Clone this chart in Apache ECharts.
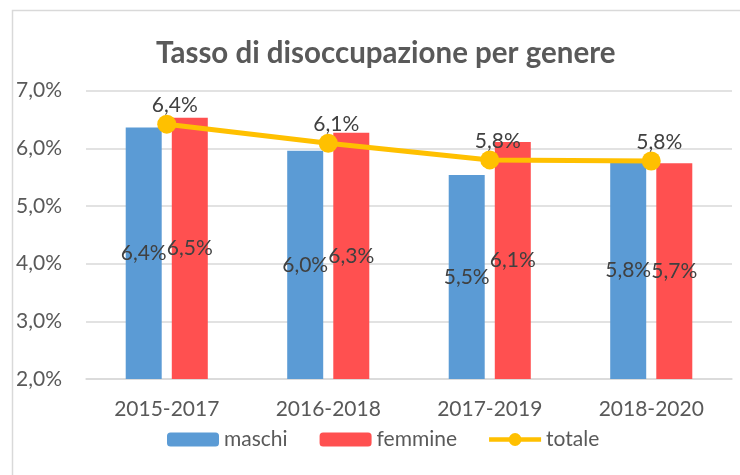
<!DOCTYPE html>
<html>
<head>
<meta charset="utf-8">
<script src="https://cdn.jsdelivr.net/npm/echarts@6/dist/echarts.min.js"></script>
<style>
  html, body { margin: 0; padding: 0; background: #fff; }
  #chart { width: 740px; height: 475px; }
</style>
</head>
<body>
<div id="chart"></div>
<script>
// dati
const periodi = ['2015-2017', '2016-2018', '2017-2019', '2018-2020']
const maschi = [6.36, 5.96, 5.54, 5.76]
const femmine = [6.53, 6.27, 6.11, 5.74]
const totale = [6.42, 6.09, 5.80, 5.78]
const yTicks = [2, 3, 4, 5, 6, 7]

const fmt = v => v.toFixed(1).replace('.', ',') + '%'
const fontFam = 'Lato, "Open Sans", sans-serif'
const fs = 21

// icona legenda: linea spessa con pallino al centro (stesso verso, niente buco)
const lineIcon = 'path://M0,4.5H57V9.5H0Z M21.5,7a7,7 0 1,1 14,0a7,7 0 1,1 -14,0Z'

const chartInstance = echarts.init(document.getElementById('chart'))

const barLabel = {
    show: true,
    position: 'inside',
    color: '#404040',
    fontSize: fs,
    fontFamily: fontFam,
    formatter: p => fmt(p.value)
}

const option = {
    animation: false,
    textStyle: { fontFamily: fontFam },
    graphic: [{
        type: 'rect',
        shape: { x: 12.5, y: 10.5, width: 800, height: 500 },
        style: { fill: 'none', stroke: '#d9d9d9', lineWidth: 1.5 },
        silent: true
    }],
    title: {
        text: 'Tasso di disoccupazione per genere',
        left: 151,
        top: 33,
        textStyle: {
            color: '#595959',
            fontSize: 29.5,
            fontWeight: 'bold',
            fontFamily: fontFam
        }
    },
    grid: {
        left: 86,
        right: 8,
        top: 90.7,
        bottom: 96
    },
    legend: {
        bottom: 20,
        left: 162,
        itemWidth: 52,
        itemHeight: 14,
        itemGap: 32,
        textStyle: { color: '#595959', fontSize: fs, fontFamily: fontFam },
        data: [
            'maschi',
            'femmine',
            { name: 'totale', icon: lineIcon, itemStyle: { color: '#FFC000' } }
        ]
    },
    xAxis: {
        type: 'category',
        data: periodi,
        axisTick: { show: false },
        axisLine: { lineStyle: { color: '#d9d9d9', width: 1.5 } },
        axisLabel: { color: '#595959', fontSize: fs, margin: 20, fontFamily: fontFam }
    },
    yAxis: {
        type: 'value',
        min: yTicks[0],
        max: yTicks[yTicks.length - 1],
        interval: 1,
        axisLine: { show: false },
        axisTick: { show: false },
        splitLine: { lineStyle: { color: '#d9d9d9', width: 1.5 } },
        axisLabel: { color: '#595959', fontSize: fs, margin: 24, fontFamily: fontFam, formatter: fmt }
    },
    series: [
        {
            name: 'maschi',
            type: 'bar',
            data: maschi,
            barWidth: 36,
            barGap: '28%',
            itemStyle: { color: '#5B9BD5' },
            label: barLabel
        },
        {
            name: 'femmine',
            type: 'bar',
            data: femmine,
            barWidth: 36,
            barGap: '28%',
            itemStyle: { color: '#FF5050' },
            label: barLabel
        },
        {
            name: 'totale',
            type: 'line',
            data: totale,
            symbol: 'circle',
            symbolSize: 19,
            lineStyle: { color: '#FFC000', width: 5 },
            itemStyle: { color: '#FFC000' },
            z: 5,
            label: {
                show: true,
                position: 'top',
                distance: 2,
                offset: [8, 3],
                color: '#404040',
                fontSize: fs,
                fontFamily: fontFam,
                formatter: p => fmt(p.value)
            }
        }
    ]
}

chartInstance.setOption(option)
</script>
</body>
</html>
